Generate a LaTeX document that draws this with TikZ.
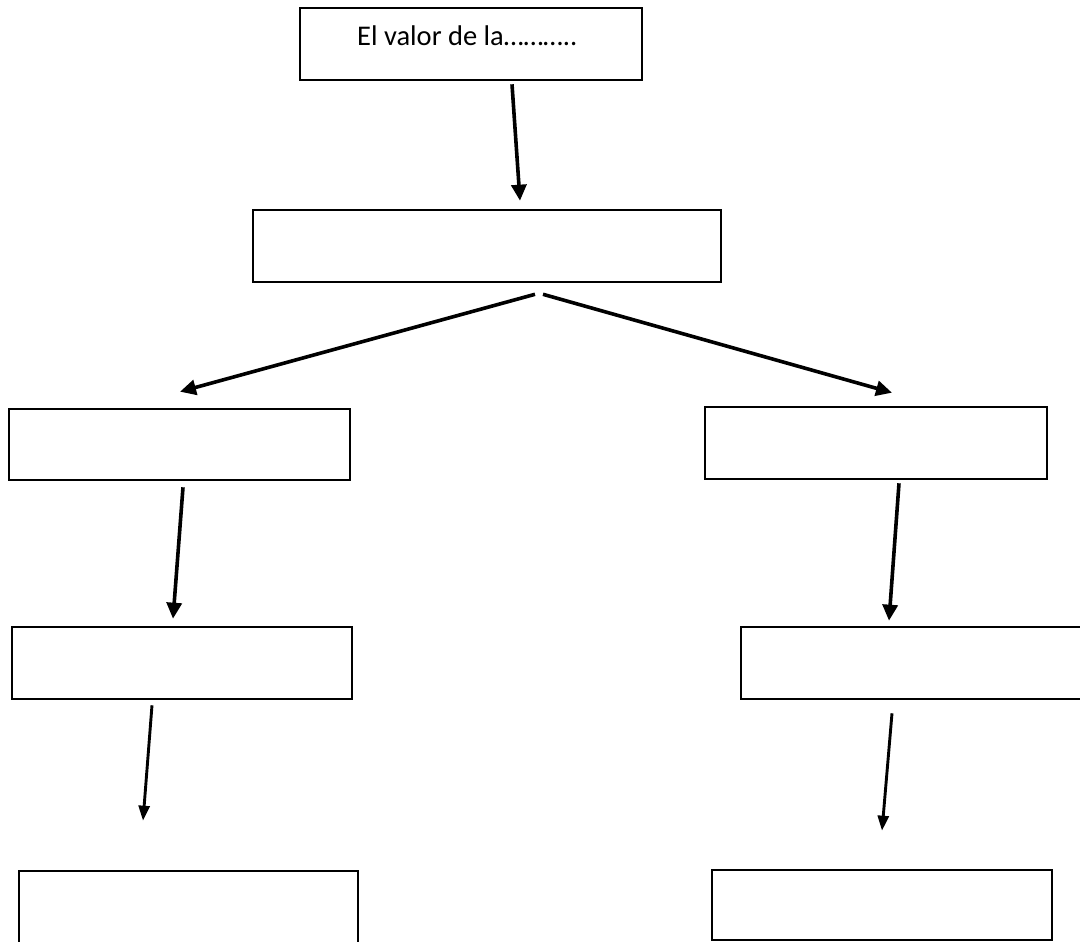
\documentclass[tikz,border=0pt]{standalone}
\usepackage{fontspec}
\setmainfont{Carlito}
\usetikzlibrary{arrows.meta}
\begin{document}
\begin{tikzpicture}[x=1pt,y=-1pt,
  box/.style={draw=black,line width=2.6pt,rectangle,inner sep=0pt,fill=white},
  arr/.style={line width=3.6pt,-{Triangle[length=16pt,width=15pt]}},
  arrthin/.style={line width=2.9pt,-{Triangle[length=15pt,width=11pt]}},
  lbl/.style={inner sep=0pt,font=\fontsize{28.5}{32}\selectfont}]
\useasboundingbox (0,0) rectangle (1080,942);
\fill[white] (0,0) rectangle (1080,942);
\node[box,minimum width=342pt,minimum height=72pt] (b0) at (471,44) {};
\node[box,minimum width=468pt,minimum height=72pt] (b1) at (487,246) {};
\node[box,minimum width=341pt,minimum height=71pt] (b2) at (179.5,444.5) {};
\node[box,minimum width=342pt,minimum height=72pt] (b3) at (876,443) {};
\node[box,minimum width=340pt,minimum height=72pt] (b4) at (182,663) {};
\node[box,minimum width=344pt,minimum height=72pt] (b5) at (913,663) {};
\node[box,minimum width=339pt,minimum height=75pt] (b6) at (188.5,908.5) {};
\node[box,minimum width=340pt,minimum height=70pt] (b7) at (882,905) {};
\node[lbl,anchor=base west] (t0) at (357,46) {El valor de la………..};
\draw[arr] ([xshift=41pt,yshift=-3pt]b0.south) -- ([xshift=33pt,yshift=8pt]b1.north);
\draw[arr] ([xshift=48pt,yshift=-11pt]b1.south) -- ([xshift=0.5pt,yshift=16pt]b2.north);
\draw[arr] ([xshift=56pt,yshift=-11pt]b1.south) -- ([xshift=16pt,yshift=13pt]b3.north);
\draw[arr] ([xshift=3.5pt,yshift=-6pt]b2.south) -- ([xshift=-9pt,yshift=7pt]b4.north);
\draw[arr] ([xshift=23pt,yshift=-3pt]b3.south) -- ([xshift=-24pt,yshift=5pt]b5.north);
\draw[arrthin] ([xshift=-30pt,yshift=-5pt]b4.south) -- ([xshift=-45.5pt,yshift=49pt]b6.north);
\draw[arrthin] ([xshift=-21pt,yshift=-13pt]b5.south) -- ([xshift=0pt,yshift=38pt]b7.north);
\end{tikzpicture}
\end{document}
